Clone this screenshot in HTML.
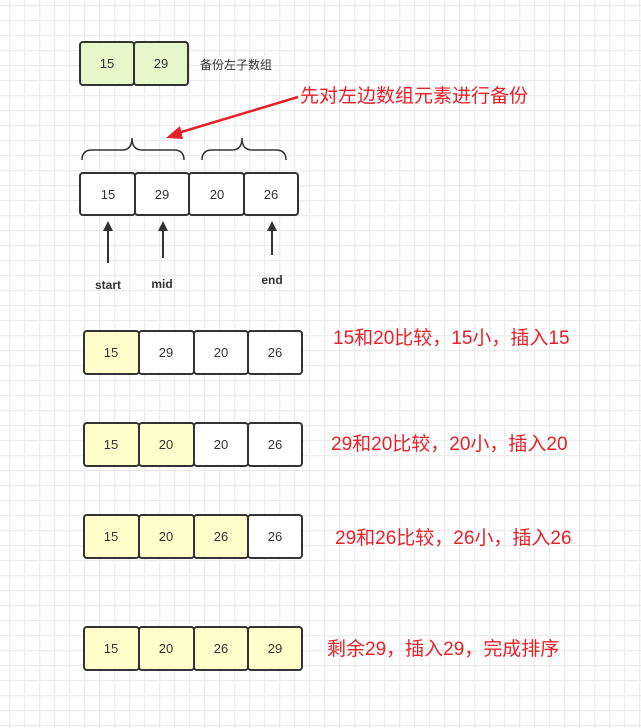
<!DOCTYPE html>
<html><head><meta charset="utf-8"><style>
html,body{margin:0;padding:0;background:#fff}
svg{display:block}
text{font-family:"Liberation Sans","Noto Sans CJK SC",sans-serif}
</style></head><body>
<svg width="641" height="728" viewBox="0 0 641 728" xmlns="http://www.w3.org/2000/svg">
<defs>
<pattern id="g" x="9" y="5" width="15" height="15" patternUnits="userSpaceOnUse">
<path d="M0 0.5H15M0.5 0V15" stroke="#ececec" stroke-width="1.5" fill="none"/>
</pattern>
<marker id="ah" markerWidth="10" markerHeight="10" refX="5" refY="5" orient="auto" markerUnits="userSpaceOnUse">
<path d="M0,0 L10,5 L0,10 Z" fill="#333"/>
</marker>
</defs>
<rect width="641" height="728" fill="url(#g)"/>
<g stroke="#333" stroke-width="2">
<rect x="80" y="42" width="54" height="43" rx="3" fill="#e6f8c9"/>
<rect x="134" y="42" width="54" height="43" rx="3" fill="#e6f8c9"/>
<rect x="80" y="173" width="55" height="42" rx="3" fill="#fff"/>
<rect x="135" y="173" width="54" height="42" rx="3" fill="#fff"/>
<rect x="189" y="173" width="55" height="42" rx="3" fill="#fff"/>
<rect x="244" y="173" width="54" height="42" rx="3" fill="#fff"/>
<rect x="84" y="331" width="55" height="43" rx="3" fill="#ffffcc"/>
<rect x="139" y="331" width="55" height="43" rx="3" fill="#fff"/>
<rect x="194" y="331" width="54" height="43" rx="3" fill="#fff"/>
<rect x="248" y="331" width="54" height="43" rx="3" fill="#fff"/>
<rect x="84" y="423" width="55" height="43" rx="3" fill="#ffffcc"/>
<rect x="139" y="423" width="55" height="43" rx="3" fill="#ffffcc"/>
<rect x="194" y="423" width="54" height="43" rx="3" fill="#fff"/>
<rect x="248" y="423" width="54" height="43" rx="3" fill="#fff"/>
<rect x="84" y="515" width="55" height="43" rx="3" fill="#ffffcc"/>
<rect x="139" y="515" width="55" height="43" rx="3" fill="#ffffcc"/>
<rect x="194" y="515" width="54" height="43" rx="3" fill="#ffffcc"/>
<rect x="248" y="515" width="54" height="43" rx="3" fill="#fff"/>
<rect x="84" y="627" width="55" height="43" rx="3" fill="#ffffcc"/>
<rect x="139" y="627" width="55" height="43" rx="3" fill="#ffffcc"/>
<rect x="194" y="627" width="54" height="43" rx="3" fill="#ffffcc"/>
<rect x="248" y="627" width="54" height="43" rx="3" fill="#ffffcc"/>
</g>
<g stroke="#333" stroke-width="1.5" fill="none">
<path d="M82,160 Q82,150 92,150 L122,150 Q132,150 132,138 Q132,150 142,150 L174,150 Q184,150 184,160"/>
<path d="M202,160 Q202,150 212,150 L232,150 Q242,150 242,138 Q242,150 252,150 L276,150 Q286,150 286,160"/>
</g>
<g stroke="#333" stroke-width="2">
<line x1="108" y1="263" x2="108" y2="226" marker-end="url(#ah)"/>
<line x1="163" y1="258" x2="163" y2="226" marker-end="url(#ah)"/>
<line x1="272" y1="255" x2="272" y2="226" marker-end="url(#ah)"/>
</g>
<line x1="298" y1="97" x2="178" y2="133" stroke="#e8202a" stroke-width="2.5"/>
<path d="M166,138 L180,126 L183,139 Z" fill="#e8202a"/>
<g font-size="13" fill="#333" text-anchor="middle">
<text x="107" y="68">15</text><text x="161" y="68">29</text>
<text x="108" y="199">15</text><text x="162" y="199">29</text><text x="217" y="199">20</text><text x="271" y="199">26</text>
<text x="111" y="357">15</text><text x="166" y="357">29</text><text x="221" y="357">20</text><text x="275" y="357">26</text>
<text x="111" y="449">15</text><text x="166" y="449">20</text><text x="221" y="449">20</text><text x="275" y="449">26</text>
<text x="111" y="541">15</text><text x="166" y="541">20</text><text x="221" y="541">26</text><text x="275" y="541">26</text>
<text x="111" y="653">15</text><text x="166" y="653">20</text><text x="221" y="653">26</text><text x="275" y="653">29</text>
</g>
<text x="200" y="69" font-size="12" fill="#333">备份左子数组</text>
<g font-size="12" font-weight="bold" fill="#333" text-anchor="middle">
<text x="108" y="289">start</text><text x="162" y="288">mid</text><text x="272" y="284">end</text>
</g>
<g font-size="19" fill="#e8202a">
<text x="300" y="102">先对左边数组元素进行备份</text>
<text x="333" y="344">15和20比较，15小，插入15</text>
<text x="331" y="450">29和20比较，20小，插入20</text>
<text x="335" y="544">29和26比较，26小，插入26</text>
<text x="327" y="655">剩余29，插入29，完成排序</text>
</g>
</svg>
</body></html>
